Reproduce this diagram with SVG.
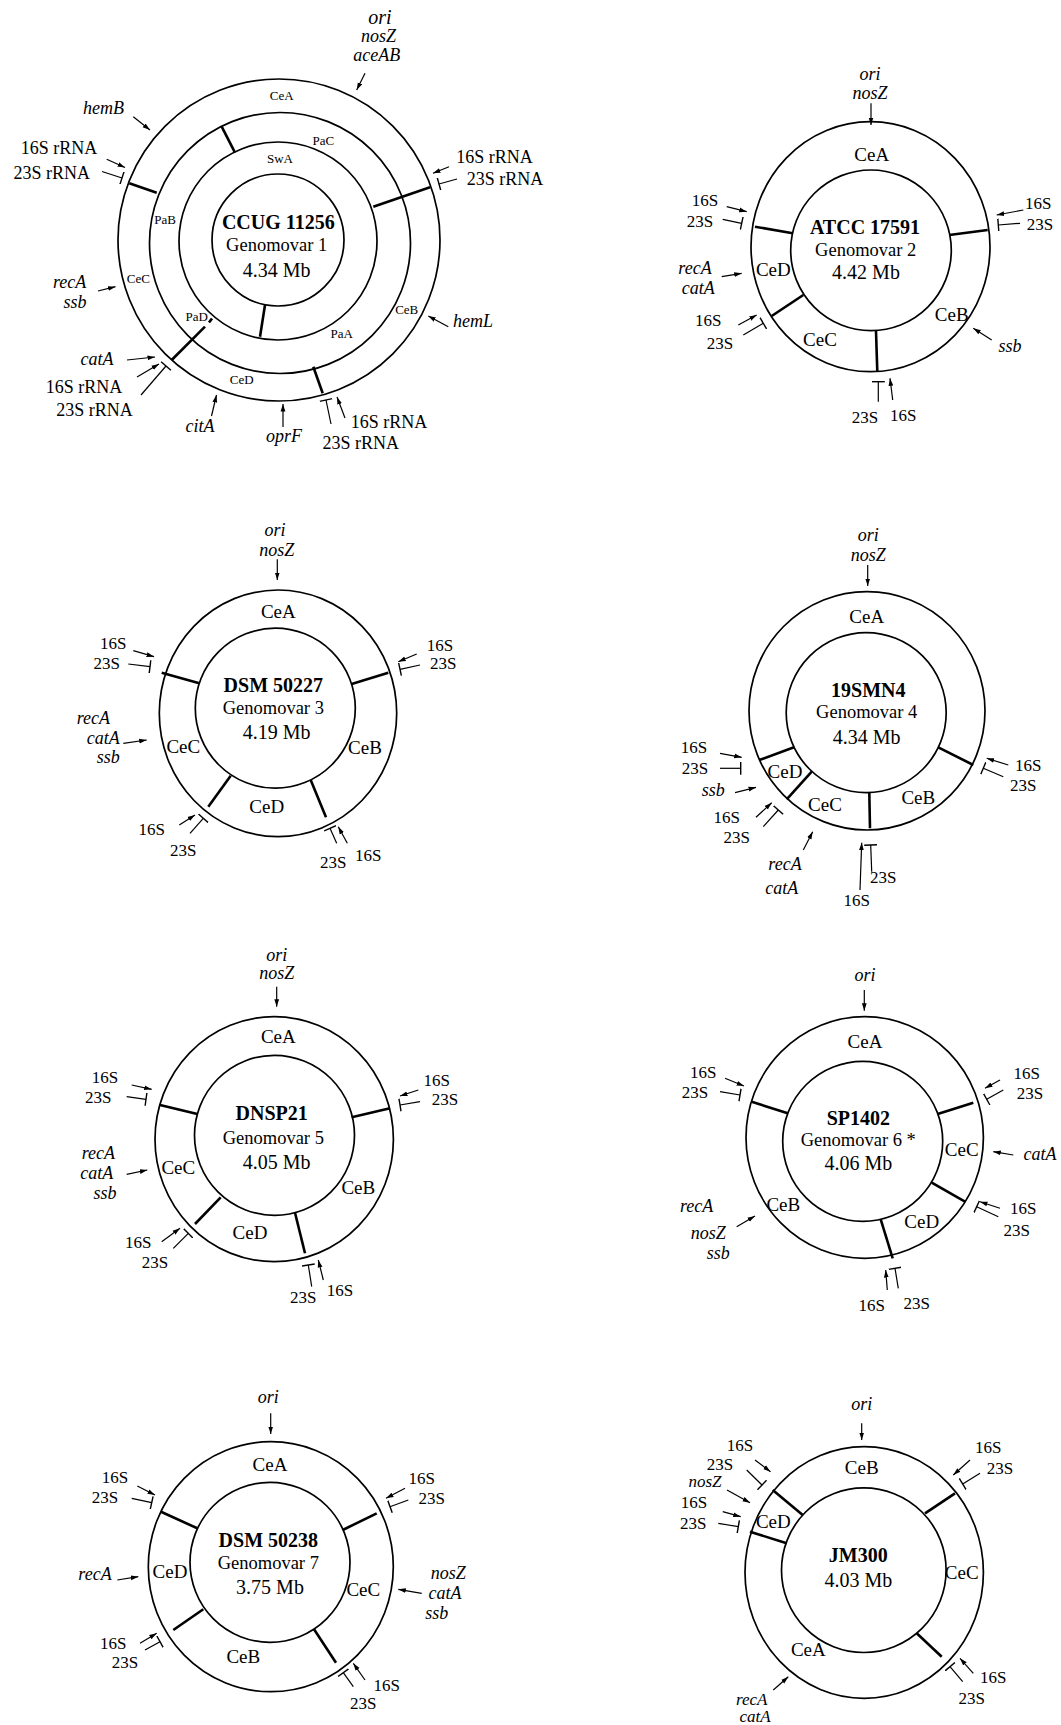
<svg xmlns="http://www.w3.org/2000/svg" width="1061" height="1725" viewBox="0 0 1061 1725">
<style>
.c{fill:none;stroke:#000;stroke-width:1.7}
.d{stroke:#000;stroke-width:2.6;fill:none}
.a{stroke:#000;stroke-width:1.2;fill:none;marker-end:url(#ah)}
.t{stroke:#000;stroke-width:1.2;fill:none;marker-end:url(#tee)}
text{font-family:"Liberation Serif","Times New Roman",serif;fill:#000;text-anchor:middle}
.ti{font-weight:bold;font-size:20px}
.g{font-size:18.5px}
.mb{font-size:20px}
.r{font-size:19px}
.rs{font-size:13px}
.l{font-size:17px}
.l1{font-size:18px}
.i{font-style:italic;font-size:18px}
.is{font-style:italic;font-size:17px}
.o{font-style:italic;font-size:20px}
</style>
<defs>
<marker id="ah" markerUnits="userSpaceOnUse" markerWidth="8" markerHeight="6" refX="7.5" refY="3" orient="auto"><path d="M0,0.6 L7.5,3 L0,5.4z" fill="#000"/></marker>
<marker id="tee" markerUnits="userSpaceOnUse" markerWidth="3" markerHeight="13" refX="1.5" refY="6.5" orient="auto"><path d="M1.5,0 V13" stroke="#000" stroke-width="1.4"/></marker>
</defs>
<rect width="1061" height="1725" fill="#fff"/>

<g id="n1">
<circle class="c" cx="279" cy="240" r="161"/>
<circle class="c" cx="280" cy="243" r="130.5"/>
<circle class="c" cx="278" cy="241" r="99"/>
<circle class="c" cx="278" cy="240" r="66"/>
<line class="d" x1="129.3" y1="183.3" x2="156.7" y2="192.7"/>
<line class="d" x1="221.7" y1="126.7" x2="235" y2="152.7"/>
<line class="d" x1="373.3" y1="206.7" x2="430" y2="187.3"/>
<line class="d" x1="265" y1="305" x2="260" y2="336.7"/>
<line class="d" x1="313.3" y1="366.7" x2="322.7" y2="393.3"/>
<line class="d" x1="171.7" y1="360" x2="205" y2="326.7"/>
<line class="d" x1="209" y1="322.5" x2="212" y2="318.5"/>
<text class="rs" x="281.7" y="99.5">CeA</text>
<text class="rs" x="323.3" y="144.5">PaC</text>
<text class="rs" x="280" y="162.8">SwA</text>
<text class="rs" x="165" y="223.8">PaB</text>
<text class="rs" x="138.3" y="282.8">CeC</text>
<text class="rs" x="196.7" y="321.2">PaD</text>
<text class="rs" x="341.7" y="337.8">PaA</text>
<text class="rs" x="406.7" y="313.8">CeB</text>
<text class="rs" x="241.7" y="383.8">CeD</text>
<text class="ti" x="278.3" y="228.5">CCUG 11256</text>
<text class="g" x="276.7" y="251">Genomovar 1</text>
<text class="mb" x="276.7" y="277">4.34 Mb</text>
<text class="o" x="380" y="23.5">ori</text>
<text class="i" x="378.6" y="42">nosZ</text>
<text class="i" x="376.8" y="60.5">aceAB</text>
<text class="i" x="103.6" y="114">hemB</text>
<text class="l1" x="59" y="154.3">16S rRNA</text>
<text class="l1" x="51.8" y="179.3">23S rRNA</text>
<text class="l1" x="494.6" y="162.7">16S rRNA</text>
<text class="l1" x="505" y="185.3">23S rRNA</text>
<text class="i" x="69.6" y="288">recA</text>
<text class="i" x="75" y="308">ssb</text>
<text class="i" x="97" y="365">catA</text>
<text class="l1" x="84" y="392.7">16S rRNA</text>
<text class="l1" x="94.6" y="416">23S rRNA</text>
<text class="i" x="200" y="432">citA</text>
<text class="i" x="284" y="442">oprF</text>
<text class="l1" x="389" y="427.7">16S rRNA</text>
<text class="l1" x="360.7" y="449.3">23S rRNA</text>
<text class="i" x="473" y="327">hemL</text>
</g>

<g id="n2">
<ellipse class="c" cx="870.5" cy="246.7" rx="119.5" ry="125"/>
<circle class="c" cx="871" cy="250.3" r="80.3"/>
<line class="d" x1="755" y1="226.7" x2="792.7" y2="233.3"/>
<line class="d" x1="949.3" y1="235" x2="987.7" y2="230"/>
<line class="d" x1="771.7" y1="316" x2="803.3" y2="295"/>
<line class="d" x1="876" y1="330.7" x2="877.3" y2="371.7"/>
<text class="i" x="870" y="79.5">ori</text>
<text class="i" x="870" y="99">nosZ</text>
<text class="r" x="871.7" y="161">CeA</text>
<text class="ti" x="865" y="233.5">ATCC 17591</text>
<text class="g" x="865.7" y="256">Genomovar 2</text>
<text class="mb" x="866" y="278.5">4.42 Mb</text>
<text class="r" x="773.3" y="276">CeD</text>
<text class="r" x="951.7" y="321">CeB</text>
<text class="r" x="820" y="346">CeC</text>
<text class="l" x="705" y="206">16S</text>
<text class="l" x="700" y="226.7">23S</text>
<text class="i" x="695" y="273.5">recA</text>
<text class="i" x="698.3" y="293.5">catA</text>
<text class="l" x="708.3" y="326">16S</text>
<text class="l" x="720" y="349.3">23S</text>
<text class="l" x="1038.3" y="209.3">16S</text>
<text class="l" x="1040" y="230">23S</text>
<text class="i" x="1010" y="352">ssb</text>
<text class="l" x="865" y="422.7">23S</text>
<text class="l" x="903.3" y="421">16S</text>
</g>

<g id="n3">
<ellipse class="c" cx="278" cy="713.3" rx="118.7" ry="123.3"/>
<circle class="c" cx="275.3" cy="708.2" r="80"/>
<line class="d" x1="161.7" y1="672.7" x2="199.3" y2="683.3"/>
<line class="d" x1="351.7" y1="684" x2="388.3" y2="672.7"/>
<line class="d" x1="208.3" y1="806.7" x2="230.7" y2="775.7"/>
<line class="d" x1="310.7" y1="780" x2="326" y2="817.3"/>
<text class="i" x="275" y="536">ori</text>
<text class="i" x="276.7" y="555.5">nosZ</text>
<text class="r" x="278.3" y="617.7">CeA</text>
<text class="ti" x="273.3" y="692">DSM 50227</text>
<text class="g" x="273.3" y="714.3">Genomovar 3</text>
<text class="mb" x="276.7" y="738.5">4.19 Mb</text>
<text class="r" x="183.3" y="752.7">CeC</text>
<text class="r" x="365" y="754.3">CeB</text>
<text class="r" x="266.7" y="812.7">CeD</text>
<text class="l" x="113.3" y="649.3">16S</text>
<text class="l" x="106.7" y="669.3">23S</text>
<text class="i" x="93.3" y="723.5">recA</text>
<text class="i" x="103.3" y="743.5">catA</text>
<text class="i" x="108.3" y="762.5">ssb</text>
<text class="l" x="151.7" y="835.3">16S</text>
<text class="l" x="183.3" y="856">23S</text>
<text class="l" x="440" y="651">16S</text>
<text class="l" x="443.3" y="669.3">23S</text>
<text class="l" x="333.3" y="867.7">23S</text>
<text class="l" x="368.3" y="861">16S</text>
</g>

<g id="n4">
<ellipse class="c" cx="867" cy="710.8" rx="118" ry="119.2"/>
<circle class="c" cx="866.2" cy="712.7" r="80"/>
<line class="d" x1="759.3" y1="760" x2="794" y2="747.3"/>
<line class="d" x1="938.3" y1="747.3" x2="973.3" y2="765"/>
<line class="d" x1="786.7" y1="799.3" x2="811.7" y2="771.7"/>
<line class="d" x1="869.3" y1="792.7" x2="870" y2="828.3"/>
<text class="i" x="868.3" y="541">ori</text>
<text class="i" x="868.3" y="560.5">nosZ</text>
<text class="r" x="866.7" y="622.7">CeA</text>
<text class="ti" x="868.3" y="697">19SMN4</text>
<text class="g" x="866.7" y="717.7">Genomovar 4</text>
<text class="mb" x="866.7" y="743.5">4.34 Mb</text>
<text class="r" x="785" y="778">CeD</text>
<text class="r" x="825" y="811">CeC</text>
<text class="r" x="918.3" y="804.3">CeB</text>
<text class="l" x="694" y="752.7">16S</text>
<text class="l" x="695" y="774.3">23S</text>
<text class="i" x="713.3" y="795.5">ssb</text>
<text class="l" x="726.7" y="823">16S</text>
<text class="l" x="736.7" y="843.3">23S</text>
<text class="i" x="785" y="870">recA</text>
<text class="i" x="781.7" y="893.5">catA</text>
<text class="l" x="856.7" y="906">16S</text>
<text class="l" x="883.3" y="882.7">23S</text>
<text class="l" x="1028.3" y="771">16S</text>
<text class="l" x="1023.3" y="791">23S</text>
</g>

<g id="n5">
<ellipse class="c" cx="274.2" cy="1139.2" rx="119.2" ry="122.5"/>
<circle class="c" cx="274.5" cy="1135.3" r="80"/>
<line class="d" x1="160" y1="1105" x2="197.3" y2="1114"/>
<line class="d" x1="351.7" y1="1117.3" x2="390" y2="1108.3"/>
<line class="d" x1="195" y1="1224" x2="220.7" y2="1197.3"/>
<line class="d" x1="295" y1="1212.7" x2="305" y2="1253.3"/>
<text class="i" x="276.7" y="961">ori</text>
<text class="i" x="276.7" y="979">nosZ</text>
<text class="r" x="278.3" y="1042.7">CeA</text>
<text class="ti" x="271.7" y="1120.3">DNSP21</text>
<text class="g" x="273.3" y="1144.3">Genomovar 5</text>
<text class="mb" x="276.7" y="1168.5">4.05 Mb</text>
<text class="r" x="178.3" y="1174.3">CeC</text>
<text class="r" x="358.3" y="1194.3">CeB</text>
<text class="r" x="250" y="1239.3">CeD</text>
<text class="l" x="105" y="1082.7">16S</text>
<text class="l" x="98.3" y="1102.7">23S</text>
<text class="i" x="98.3" y="1158.5">recA</text>
<text class="i" x="96.7" y="1178.5">catA</text>
<text class="i" x="105" y="1198.5">ssb</text>
<text class="l" x="138.3" y="1247.7">16S</text>
<text class="l" x="155" y="1267.7">23S</text>
<text class="l" x="436.7" y="1086">16S</text>
<text class="l" x="445" y="1105.3">23S</text>
<text class="l" x="303.3" y="1302.7">23S</text>
<text class="l" x="340" y="1296">16S</text>
</g>

<g id="n6">
<ellipse class="c" cx="864.7" cy="1137.5" rx="118.7" ry="120.8"/>
<circle class="c" cx="862.7" cy="1141.3" r="80"/>
<line class="d" x1="751.7" y1="1101.7" x2="787.7" y2="1113.3"/>
<line class="d" x1="937.7" y1="1114" x2="973.3" y2="1102.7"/>
<line class="d" x1="931.7" y1="1182.7" x2="965" y2="1201.7"/>
<line class="d" x1="880.7" y1="1219.3" x2="892.7" y2="1258.3"/>
<text class="i" x="865" y="981">ori</text>
<text class="r" x="865" y="1047.7">CeA</text>
<text class="ti" x="858.3" y="1125.3">SP1402</text>
<text class="g" x="858.3" y="1146">Genomovar 6 *</text>
<text class="mb" x="858.3" y="1170">4.06 Mb</text>
<text class="r" x="961.7" y="1156">CeC</text>
<text class="r" x="921.7" y="1227.7">CeD</text>
<text class="r" x="783.3" y="1211">CeB</text>
<text class="l" x="703.3" y="1077.7">16S</text>
<text class="l" x="695" y="1097.7">23S</text>
<text class="i" x="696.7" y="1212">recA</text>
<text class="i" x="708.3" y="1238.5">nosZ</text>
<text class="i" x="718.3" y="1258.5">ssb</text>
<text class="l" x="1026.7" y="1079.3">16S</text>
<text class="l" x="1030" y="1099.3">23S</text>
<text class="i" x="1040" y="1160">catA</text>
<text class="l" x="1023.3" y="1214.3">16S</text>
<text class="l" x="1016.7" y="1236">23S</text>
<text class="l" x="871.7" y="1311">16S</text>
<text class="l" x="916.7" y="1309.3">23S</text>
</g>

<g id="n7">
<ellipse class="c" cx="270.8" cy="1566.7" rx="122.5" ry="125"/>
<circle class="c" cx="270" cy="1562.3" r="80"/>
<line class="d" x1="161" y1="1511.7" x2="197.3" y2="1528.3"/>
<line class="d" x1="342.7" y1="1530" x2="376.7" y2="1513.3"/>
<line class="d" x1="173.3" y1="1630" x2="203.3" y2="1609.3"/>
<line class="d" x1="314" y1="1629.3" x2="336" y2="1662.7"/>
<text class="i" x="268.3" y="1402.8">ori</text>
<text class="r" x="270" y="1471">CeA</text>
<text class="ti" x="268.3" y="1547">DSM 50238</text>
<text class="g" x="268.3" y="1568.7">Genomovar 7</text>
<text class="mb" x="270" y="1593.5">3.75 Mb</text>
<text class="r" x="170" y="1577.7">CeD</text>
<text class="r" x="363.3" y="1596">CeC</text>
<text class="r" x="243.3" y="1662.7">CeB</text>
<text class="l" x="115" y="1482.7">16S</text>
<text class="l" x="105" y="1502.7">23S</text>
<text class="i" x="95" y="1580">recA</text>
<text class="l" x="113.3" y="1649.3">16S</text>
<text class="l" x="125" y="1667.7">23S</text>
<text class="l" x="421.7" y="1484.3">16S</text>
<text class="l" x="431.7" y="1504.3">23S</text>
<text class="i" x="448.3" y="1578.5">nosZ</text>
<text class="i" x="445" y="1598.5">catA</text>
<text class="i" x="436.7" y="1618.5">ssb</text>
<text class="l" x="386.7" y="1691">16S</text>
<text class="l" x="363.3" y="1709.3">23S</text>
</g>

<g id="n8">
<ellipse class="c" cx="864.2" cy="1572.5" rx="119.2" ry="125.8"/>
<circle class="c" cx="863.8" cy="1570.2" r="82.3"/>
<line class="d" x1="772.7" y1="1490" x2="802.7" y2="1515"/>
<line class="d" x1="925" y1="1513.3" x2="955" y2="1493.3"/>
<line class="d" x1="750" y1="1531.7" x2="786.7" y2="1543.3"/>
<line class="d" x1="916.7" y1="1633.3" x2="941.7" y2="1656.7"/>
<text class="i" x="861.7" y="1409.5">ori</text>
<text class="r" x="861.7" y="1474.3">CeB</text>
<text class="ti" x="858.3" y="1562">JM300</text>
<text class="mb" x="858.3" y="1586.8">4.03 Mb</text>
<text class="r" x="773.3" y="1527.7">CeD</text>
<text class="r" x="961.7" y="1579.3">CeC</text>
<text class="r" x="808.3" y="1656">CeA</text>
<text class="l" x="740" y="1450.5">16S</text>
<text class="l" x="720" y="1469.5">23S</text>
<text class="is" x="705" y="1487">nosZ</text>
<text class="l" x="694" y="1507.7">16S</text>
<text class="l" x="693.3" y="1529.3">23S</text>
<text class="l" x="988.3" y="1452.7">16S</text>
<text class="l" x="1000" y="1474.3">23S</text>
<text class="is" x="751.7" y="1705">recA</text>
<text class="is" x="755" y="1722">catA</text>
<text class="l" x="993.3" y="1682.7">16S</text>
<text class="l" x="971.7" y="1704.3">23S</text>
</g>

<g id="connectors">
<line class="a" x1="365" y1="73.3" x2="356.7" y2="90"/>
<line class="a" x1="133.3" y1="116.7" x2="150" y2="130"/>
<line class="a" x1="106.7" y1="159.3" x2="125" y2="167.5"/>
<line class="t" x1="102" y1="171.5" x2="122" y2="178"/>
<line class="a" x1="449" y1="166.7" x2="433" y2="173.3"/>
<line class="t" x1="457" y1="179" x2="439" y2="184"/>
<line class="a" x1="98" y1="291" x2="115.5" y2="286.7"/>
<line class="a" x1="127" y1="360" x2="155" y2="357"/>
<line class="a" x1="137" y1="377" x2="159" y2="364"/>
<line class="t" x1="141" y1="395" x2="166" y2="366"/>
<line class="a" x1="211.5" y1="416" x2="216.5" y2="395"/>
<line class="a" x1="283" y1="427" x2="283" y2="404"/>
<line class="t" x1="331" y1="424" x2="326" y2="400"/>
<line class="a" x1="345" y1="418" x2="337" y2="397"/>
<line class="a" x1="448.3" y1="326.7" x2="428.3" y2="316"/>

<line class="a" x1="871" y1="103.3" x2="871" y2="125"/>
<line class="a" x1="726.7" y1="206.7" x2="746.7" y2="211.7"/>
<line class="t" x1="722.7" y1="219.3" x2="741.7" y2="223.3"/>
<line class="a" x1="721.7" y1="276.7" x2="741.7" y2="273.3"/>
<line class="a" x1="738.3" y1="325" x2="756.7" y2="315"/>
<line class="t" x1="743.3" y1="335" x2="763.3" y2="323.3"/>
<line class="a" x1="1023.3" y1="210" x2="996.7" y2="215"/>
<line class="t" x1="1020" y1="223.3" x2="998.3" y2="225"/>
<line class="a" x1="991.7" y1="340" x2="973.3" y2="328.3"/>
<line class="t" x1="878.3" y1="401.7" x2="878.3" y2="381.7"/>
<line class="a" x1="892.7" y1="400" x2="890" y2="378.3"/>

<line class="a" x1="277.3" y1="559.3" x2="277.3" y2="580"/>
<line class="a" x1="133.3" y1="650.7" x2="154" y2="656.7"/>
<line class="t" x1="128.3" y1="664" x2="150" y2="666.7"/>
<line class="a" x1="123.3" y1="743.3" x2="146.7" y2="740"/>
<line class="a" x1="179.3" y1="825" x2="195" y2="815"/>
<line class="t" x1="190" y1="833.3" x2="203.3" y2="818.3"/>
<line class="a" x1="416.7" y1="654" x2="398.3" y2="661.7"/>
<line class="t" x1="420" y1="665" x2="400" y2="669.3"/>
<line class="t" x1="336.7" y1="843.3" x2="330" y2="828.3"/>
<line class="a" x1="347.3" y1="843.3" x2="338.3" y2="826.7"/>

<line class="a" x1="867.7" y1="565" x2="867.7" y2="586"/>
<line class="a" x1="720" y1="753.3" x2="741.7" y2="757.3"/>
<line class="t" x1="720" y1="768.3" x2="740.7" y2="768.3"/>
<line class="a" x1="735" y1="792.7" x2="756" y2="787.3"/>
<line class="a" x1="756" y1="817.3" x2="771.7" y2="802.7"/>
<line class="t" x1="763.3" y1="826.7" x2="778.3" y2="810"/>
<line class="a" x1="803.3" y1="850" x2="812.7" y2="831.7"/>
<line class="a" x1="860" y1="890" x2="861.7" y2="842.7"/>
<line class="t" x1="871.7" y1="871.7" x2="870.7" y2="845"/>
<line class="a" x1="1008.3" y1="765" x2="986.7" y2="758.3"/>
<line class="t" x1="1003.3" y1="776.7" x2="983.3" y2="768.3"/>

<line class="a" x1="276.7" y1="986.7" x2="276.7" y2="1006.7"/>
<line class="a" x1="131.7" y1="1085" x2="151.7" y2="1089.3"/>
<line class="t" x1="126.7" y1="1096.7" x2="146" y2="1099.3"/>
<line class="a" x1="126.7" y1="1174.3" x2="147.3" y2="1170"/>
<line class="a" x1="161.7" y1="1241.7" x2="180" y2="1228.3"/>
<line class="t" x1="173.3" y1="1248.3" x2="188.3" y2="1233.3"/>
<line class="a" x1="418.3" y1="1090" x2="400" y2="1096"/>
<line class="t" x1="420" y1="1101.7" x2="400" y2="1105"/>
<line class="t" x1="311.7" y1="1286.7" x2="308.3" y2="1265"/>
<line class="a" x1="323.3" y1="1280" x2="318.3" y2="1260"/>

<line class="a" x1="864.3" y1="990" x2="864.3" y2="1010.7"/>
<line class="a" x1="725" y1="1078.3" x2="744" y2="1086"/>
<line class="t" x1="720" y1="1091.7" x2="740" y2="1095"/>
<line class="a" x1="736.7" y1="1226.7" x2="755" y2="1216"/>
<line class="a" x1="1000" y1="1080" x2="985" y2="1088.3"/>
<line class="t" x1="1003.3" y1="1090" x2="986.7" y2="1099.3"/>
<line class="a" x1="1013.3" y1="1155" x2="993.3" y2="1151.7"/>
<line class="a" x1="1000" y1="1208.3" x2="980" y2="1201.7"/>
<line class="t" x1="998.3" y1="1216.7" x2="976.7" y2="1206.7"/>
<line class="a" x1="887.3" y1="1290" x2="885.7" y2="1270"/>
<line class="t" x1="898.3" y1="1288.3" x2="895" y2="1268.3"/>

<line class="a" x1="270.7" y1="1413.3" x2="270.7" y2="1434"/>
<line class="a" x1="137.3" y1="1486" x2="155" y2="1495"/>
<line class="t" x1="131.7" y1="1498.3" x2="151.7" y2="1502.7"/>
<line class="a" x1="117.3" y1="1580" x2="138.3" y2="1576.7"/>
<line class="a" x1="140" y1="1643.3" x2="156.7" y2="1633.3"/>
<line class="t" x1="145" y1="1650" x2="160" y2="1641.7"/>
<line class="a" x1="405" y1="1488.3" x2="386" y2="1498.3"/>
<line class="t" x1="408.3" y1="1500" x2="390" y2="1506.7"/>
<line class="a" x1="421.7" y1="1593.3" x2="398.3" y2="1589.3"/>
<line class="a" x1="365" y1="1680" x2="353.3" y2="1663.3"/>
<line class="t" x1="353.3" y1="1686.7" x2="343.3" y2="1672.7"/>

<line class="a" x1="861.7" y1="1423.3" x2="861.7" y2="1440"/>
<line class="a" x1="755" y1="1460" x2="770.5" y2="1471.7"/>
<line class="t" x1="746.7" y1="1470" x2="762" y2="1485"/>
<line class="a" x1="727" y1="1490" x2="750" y2="1502.7"/>
<line class="a" x1="722.7" y1="1511.7" x2="740.7" y2="1516.7"/>
<line class="t" x1="718.3" y1="1523.3" x2="738.3" y2="1526.7"/>
<line class="a" x1="970" y1="1460" x2="953.3" y2="1475"/>
<line class="t" x1="980" y1="1473.3" x2="962.7" y2="1484"/>
<line class="a" x1="773.3" y1="1690" x2="788.3" y2="1676.7"/>
<line class="a" x1="973.3" y1="1673.3" x2="960" y2="1658.3"/>
<line class="t" x1="962.7" y1="1681.7" x2="950" y2="1666.7"/>
</g>
</svg>
